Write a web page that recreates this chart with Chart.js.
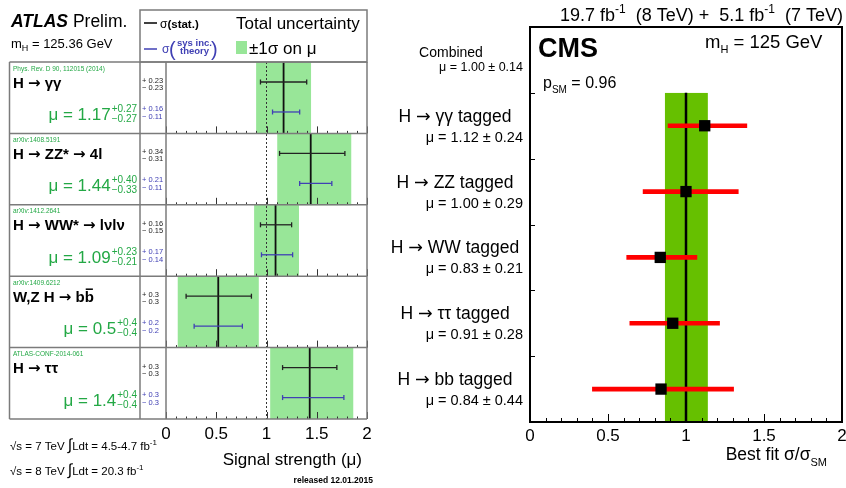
<!DOCTYPE html>
<html>
<head>
<meta charset="utf-8">
<script src="https://cdn.jsdelivr.net/npm/chart.js@4.4.1/dist/chart.umd.min.js"></script>
<style>
  html, body { margin: 0; padding: 0; background: #fff; overflow: hidden; width: 846px; height: 488px; }
  #atlas { position: absolute; left: 0; top: 0; }
  #cms { position: absolute; left: 380px; top: 0; }
</style>
</head>
<body>
<canvas id="atlas" width="380" height="488"></canvas>
<canvas id="cms" width="480" height="488"></canvas>
<script>
// ---------- ATLAS panel data ----------
const atlasChannels = ['H → γγ', 'H → ZZ* → 4l', 'H → WW* → lνlν', 'W,Z H → bb', 'H → ττ'];
const atlasRefs = ['Phys. Rev. D 90, 112015 (2014)', 'arXiv:1408.5191', 'arXiv:1412.2641', 'arXiv:1409.6212', 'ATLAS-CONF-2014-061'];
const atlasMu = [1.17, 1.44, 1.09, 0.52, 1.43];
const atlasTotDn = [0.27, 0.33, 0.21, 0.40, 0.39];
const atlasTotUp = [0.27, 0.40, 0.23, 0.40, 0.43];
const atlasStatDn = [0.23, 0.31, 0.15, 0.32, 0.27];
const atlasStatUp = [0.23, 0.34, 0.16, 0.33, 0.27];
const atlasSysDn = [0.11, 0.11, 0.14, 0.24, 0.27];
const atlasSysUp = [0.16, 0.21, 0.17, 0.24, 0.34];
const atlasMuText = ['1.17', '1.44', '1.09', '0.5', '1.4'];
const atlasTotText = [['+0.27', '−0.27'], ['+0.40', '−0.33'], ['+0.23', '−0.21'], ['+0.4', '−0.4'], ['+0.4', '−0.4']];
const atlasStatText = [['+ 0.23', '− 0.23'], ['+ 0.34', '− 0.31'], ['+ 0.16', '− 0.15'], ['+ 0.3', '− 0.3'], ['+ 0.3', '− 0.3']];
const atlasSysText = [['+ 0.16', '− 0.11'], ['+ 0.21', '− 0.11'], ['+ 0.17', '− 0.14'], ['+ 0.2', '− 0.2'], ['+ 0.3', '− 0.3']];
const atlasTicks = ['0', '0.5', '1', '1.5', '2'];

// ---------- CMS panel data ----------
const cmsLabels = ['Combined', 'H → γγ tagged', 'H → ZZ tagged', 'H → WW tagged', 'H → ττ tagged', 'H → bb tagged'];
const cmsMuText = ['μ = 1.00 ± 0.14', 'μ = 1.12 ± 0.24', 'μ = 1.00 ± 0.29', 'μ = 0.83 ± 0.21', 'μ = 0.91 ± 0.28', 'μ = 0.84 ± 0.44'];
const cmsMu = [1.00, 1.12, 1.00, 0.835, 0.915, 0.84];
const cmsLo = [0.865, 0.885, 0.725, 0.62, 0.64, 0.40];
const cmsHi = [1.14, 1.39, 1.335, 1.07, 1.215, 1.305];
const cmsTicks = ['0', '0.5', '1', '1.5', '2'];

const FONT = '"Liberation Sans", Arial, Helvetica, sans-serif';
const ARROW_FONT = '"DejaVu Sans", sans-serif';
const ATLAS_GREEN = '#98e698';
const TEXT_GREEN = '#23a845';
const BLUE = '#4040b4';
const CMS_GREEN = '#66c000';
const STAT_POS = 0.28, SYS_POS = 0.70;

function f(size, weight, style) { return (style || '') + ' ' + (weight || '') + ' ' + size + 'px ' + FONT; }

// draw a run of text pieces (text, font, dy, colour)
function runs(ctx, list, x, y, align, color) {
  let w = 0;
  list.forEach(r => { ctx.font = r[1]; r.w = ctx.measureText(r[0]).width; w += r.w; });
  let cx = align === 'right' ? x - w : align === 'center' ? x - w / 2 : x;
  ctx.textAlign = 'left';
  ctx.textBaseline = 'alphabetic';
  list.forEach(r => {
    ctx.font = r[1];
    ctx.fillStyle = r[3] || color || '#000';
    ctx.fillText(r[0], cx, y + (r[2] || 0));
    cx += r.w;
  });
  return w;
}
// split a label so that the arrows use a font with a centred arrow glyph
function arrowRuns(text, size, weight) {
  const out = [];
  text.split('→').forEach((p, k) => {
    if (k > 0) out.push(['→', (weight || '') + ' ' + size + 'px ' + ARROW_FONT]);
    if (p) out.push([p, f(size, weight)]);
  });
  return out;
}
function seg(ctx, x1, y1, x2, y2) { ctx.beginPath(); ctx.moveTo(x1, y1); ctx.lineTo(x2, y2); ctx.stroke(); }

// ---------- ATLAS chart ----------
const atlasDatasets = [
  {
    type: 'bar', yAxisID: 'y', order: 10, grouped: false,
    data: atlasMu.map((m, i) => [m - atlasTotDn[i], m + atlasTotUp[i]]),
    backgroundColor: ATLAS_GREEN, borderWidth: 0, barPercentage: 1, categoryPercentage: 1
  },
  {
    type: 'line', yAxisID: 'y2', order: 8,
    data: [{ x: 1, y: 0 }, { x: 1, y: 5 }],
    borderColor: '#333', borderWidth: 1, borderDash: [2, 2], pointRadius: 0
  }
];
atlasMu.forEach((m, i) => {
  atlasDatasets.push({
    type: 'line', yAxisID: 'y2', order: 6,
    data: [{ x: m, y: i }, { x: m, y: i + 1 }],
    borderColor: '#111', borderWidth: 1.8, pointRadius: 0
  });
  atlasDatasets.push({
    type: 'line', yAxisID: 'y2', order: 2,
    data: [{ x: m - atlasStatDn[i], y: i + STAT_POS }, { x: m + atlasStatUp[i], y: i + STAT_POS }],
    borderColor: '#222', borderWidth: 1.3,
    pointStyle: 'line', pointRotation: 90, pointRadius: 2.5, pointBorderWidth: 1.3, pointBorderColor: '#222'
  });
  atlasDatasets.push({
    type: 'line', yAxisID: 'y2', order: 2,
    data: [{ x: m - atlasSysDn[i], y: i + SYS_POS }, { x: m + atlasSysUp[i], y: i + SYS_POS }],
    borderColor: BLUE, borderWidth: 1.3,
    pointStyle: 'line', pointRotation: 90, pointRadius: 2.5, pointBorderWidth: 1.3, pointBorderColor: BLUE
  });
});

const atlasDeco = {
  id: 'atlasDeco',
  afterDatasetsDraw(chart) {
    const { ctx, chartArea: a, scales: { x, y2 } } = chart;
    ctx.save();
    // ticks along the bottom of every row
    ctx.strokeStyle = '#333';
    ctx.lineWidth = 1;
    for (let i = 0; i < atlasChannels.length; i++) {
      const yb = y2.getPixelForValue(i + 1);
      for (let k = 0; k <= 20; k++) {
        const px = Math.round(x.getPixelForValue(k / 10)) + 0.5;
        seg(ctx, px, yb, px, yb - (k % 5 === 0 ? 7 : 2.5));
      }
    }
    // frame
    ctx.strokeStyle = '#7b7b7b';
    ctx.lineWidth = 1.5;
    for (let i = 0; i <= atlasChannels.length; i++) {
      const yy = y2.getPixelForValue(i);
      seg(ctx, 9.5, yy, a.right, yy);
    }
    [9.5, 140, a.left, a.right].forEach(xx => seg(ctx, xx, a.top, xx, a.bottom));
    ctx.strokeRect(140, 10, a.right - 140, a.top - 10);
    ctx.restore();
  },
  afterDraw(chart) {
    const { ctx, scales: { y2 } } = chart;
    ctx.save();
    runs(ctx, [['ATLAS', f(17.5, 'bold', 'italic')], [' Prelim.', f(17.5)]], 11, 27);
    runs(ctx, [['m', f(13)], ['H', f(9), 3], [' = 125.36 GeV', f(13)]], 11, 48);
    // legend
    ctx.lineWidth = 1.5;
    ctx.strokeStyle = '#000';
    seg(ctx, 144, 23, 157, 23);
    runs(ctx, [['σ', f(12)], ['(stat.)', f(11.5, 'bold')]], 160, 27.5);
    ctx.strokeStyle = BLUE;
    seg(ctx, 144, 49, 157, 49);
    runs(ctx, [['σ', f(12)]], 162, 53, 'left', BLUE);
    runs(ctx, [['(', f(20)]], 169, 56, 'left', BLUE);
    runs(ctx, [['sys inc.', f(9.5, 'bold')]], 177, 46, 'left', BLUE);
    runs(ctx, [['theory', f(9.5, 'bold')]], 180, 54, 'left', BLUE);
    runs(ctx, [[')', f(20)]], 211, 56, 'left', BLUE);
    runs(ctx, [['Total uncertainty', f(17)]], 236, 29);
    ctx.fillStyle = ATLAS_GREEN;
    ctx.fillRect(236, 41, 11, 13);
    runs(ctx, [['±1σ on μ', f(17)]], 249, 54);

    atlasChannels.forEach((name, i) => {
      const top = y2.getPixelForValue(i);
      runs(ctx, [[atlasRefs[i], f(6.5)]], 13, top + 8.5, 'left', TEXT_GREEN);
      const w = runs(ctx, arrowRuns(name, 15, 'bold'), 13, top + 25.5);
      if (i === 3) {
        ctx.font = f(15, 'bold');
        const wb = ctx.measureText('b').width;
        ctx.strokeStyle = '#000';
        ctx.lineWidth = 1.5;
        seg(ctx, 13 + w - wb + 1, top + 13, 13 + w - 1, top + 13);
      }
      // mu value with asymmetric errors
      ctx.font = f(10);
      const ws = Math.max(ctx.measureText(atlasTotText[i][0]).width, ctx.measureText(atlasTotText[i][1]).width);
      const sx = 137 - ws;
      runs(ctx, [['μ = ' + atlasMuText[i], f(17)]], sx - 1, top + 58, 'right', TEXT_GREEN);
      runs(ctx, [[atlasTotText[i][0], f(10)]], sx, top + 50, 'left', TEXT_GREEN);
      runs(ctx, [[atlasTotText[i][1], f(10)]], sx, top + 60, 'left', TEXT_GREEN);
      // stat / sys numbers
      runs(ctx, [[atlasStatText[i][0], f(7.5)]], 142, top + 21, 'left', '#222');
      runs(ctx, [[atlasStatText[i][1], f(7.5)]], 142, top + 28, 'left', '#222');
      runs(ctx, [[atlasSysText[i][0], f(7.5)]], 142, top + 49, 'left', BLUE);
      runs(ctx, [[atlasSysText[i][1], f(7.5)]], 142, top + 57, 'left', BLUE);
    });

    runs(ctx, [['√s = 7 TeV ', f(11.5)], ['∫', f(16)], ['Ldt = 4.5-4.7 fb', f(11.5)], ['-1', f(8), -5]], 10, 450);
    runs(ctx, [['√s = 8 TeV ', f(11.5)], ['∫', f(16)], ['Ldt = 20.3 fb', f(11.5)], ['-1', f(8), -5]], 10, 475);
    runs(ctx, [['Signal strength (μ)', f(17)]], 362, 465, 'right');
    runs(ctx, [['released 12.01.2015', f(8.5, 'bold')]], 373, 483, 'right');
    ctx.restore();
  }
};

new Chart(document.getElementById('atlas'), {
  type: 'bar',
  data: { labels: atlasChannels, datasets: atlasDatasets },
  options: {
    indexAxis: 'y',
    responsive: false,
    animation: false,
    events: [],
    layout: { padding: { left: 166, right: 13, top: 62, bottom: 29 } },
    plugins: { legend: { display: false }, tooltip: { enabled: false } },
    scales: {
      x: {
        type: 'linear', position: 'bottom', min: 0, max: 2,
        grid: { display: false, drawTicks: false },
        border: { display: false },
        ticks: {
          stepSize: 0.5, padding: 5, color: '#000', maxRotation: 0,
          font: { family: FONT, size: 17 },
          callback: (v, i) => atlasTicks[i]
        },
        afterFit: s => { s.height = 40; }
      },
      y: { type: 'category', display: false, offset: true },
      y2: { type: 'linear', min: 0, max: 5, reverse: true, offset: false, display: false }
    }
  },
  plugins: [atlasDeco]
});

// ---------- CMS chart ----------
const OX = 380;
const cmsDatasets = [
  {
    type: 'line', yAxisID: 'y2', order: 10,
    data: [{ x: cmsHi[0], y: 1 }, { x: cmsHi[0], y: cmsLabels.length }],
    fill: { target: { value: cmsLo[0] } },
    backgroundColor: CMS_GREEN, borderColor: 'transparent', borderWidth: 0, pointRadius: 0
  },
  {
    type: 'line', yAxisID: 'y2', order: 8,
    data: [{ x: cmsMu[0], y: 1 }, { x: cmsMu[0], y: cmsLabels.length }],
    borderColor: '#000', borderWidth: 2.5, pointRadius: 0
  },
  {
    type: 'bar', yAxisID: 'y', order: 4, grouped: false,
    data: cmsMu.map((m, i) => i === 0 ? null : [cmsLo[i], cmsHi[i]]),
    backgroundColor: '#ff0000', borderWidth: 0, barThickness: 4
  },
  {
    type: 'line', yAxisID: 'y2', order: 1,
    data: cmsMu.slice(1).map((m, i) => ({ x: m, y: i + 1.5 })),
    showLine: false, pointStyle: 'rect', pointRadius: 8,
    pointBackgroundColor: '#000', pointBorderWidth: 0
  }
];

const cmsDeco = {
  id: 'cmsDeco',
  afterDatasetsDraw(chart) {
    const { ctx, chartArea: a, scales: { x, y2 } } = chart;
    ctx.save();
    ctx.strokeStyle = '#000';
    ctx.lineWidth = 1;
    for (let k = 0; k <= 20; k++) {
      const px = Math.round(x.getPixelForValue(k / 10)) + 0.5;
      seg(ctx, px, a.bottom, px, a.bottom - (k % 5 === 0 ? 8 : 4));
    }
    for (let i = 1; i < cmsLabels.length; i++) {
      const py = Math.round(y2.getPixelForValue(i)) + 0.5;
      seg(ctx, a.left, py, a.left + 5, py);
    }
    ctx.lineWidth = 2;
    ctx.strokeRect(a.left, a.top, a.right - a.left, a.bottom - a.top);
    ctx.restore();
  },
  afterDraw(chart) {
    const { ctx, scales: { y2 } } = chart;
    ctx.save();
    runs(ctx, [['19.7 fb', f(18)], ['-1', f(12), -8], ['  (8 TeV) +  5.1 fb', f(18)], ['-1', f(12), -8], ['  (7 TeV)', f(18)]], 843 - OX, 21, 'right');
    runs(ctx, [['CMS', f(27, 'bold')]], 538 - OX, 57);
    runs(ctx, [['m', f(18.5)], ['H', f(11), 5], [' = 125 GeV', f(18.5)]], 705 - OX, 48);
    runs(ctx, [['p', f(16)], ['SM', f(10), 5], [' = 0.96', f(16)]], 543 - OX, 88);
    cmsLabels.forEach((name, i) => {
      const py = y2.getPixelForValue(i + 0.5);
      if (i === 0) {
        runs(ctx, [[name, f(14)]], 451 - OX, py - 3, 'center');
        runs(ctx, [[cmsMuText[i], f(12.5)]], 523 - OX, py + 11, 'right');
      } else {
        runs(ctx, arrowRuns(name, 17.5), 455 - OX, py - 4, 'center');
        runs(ctx, [[cmsMuText[i], f(14.5)]], 523 - OX, py + 16, 'right');
      }
    });
    runs(ctx, [['Best fit σ/σ', f(17.5)], ['SM', f(11), 6]], 827 - OX, 460, 'right');
    ctx.restore();
  }
};

new Chart(document.getElementById('cms'), {
  type: 'bar',
  data: { labels: cmsLabels, datasets: cmsDatasets },
  options: {
    indexAxis: 'y',
    responsive: false,
    animation: false,
    events: [],
    layout: { padding: { left: 150, right: 18, top: 27, bottom: 26 } },
    plugins: { legend: { display: false }, tooltip: { enabled: false } },
    scales: {
      x: {
        type: 'linear', position: 'bottom', min: 0, max: 2,
        grid: { display: false, drawTicks: false },
        border: { display: false },
        ticks: {
          stepSize: 0.5, padding: 4, color: '#000', maxRotation: 0,
          font: { family: FONT, size: 17 },
          callback: (v, i) => cmsTicks[i]
        },
        afterFit: s => { s.height = 40; }
      },
      y: { type: 'category', display: false, offset: true },
      y2: { type: 'linear', min: 0, max: cmsLabels.length, reverse: true, offset: false, display: false }
    }
  },
  plugins: [cmsDeco]
});
</script>
</body>
</html>
